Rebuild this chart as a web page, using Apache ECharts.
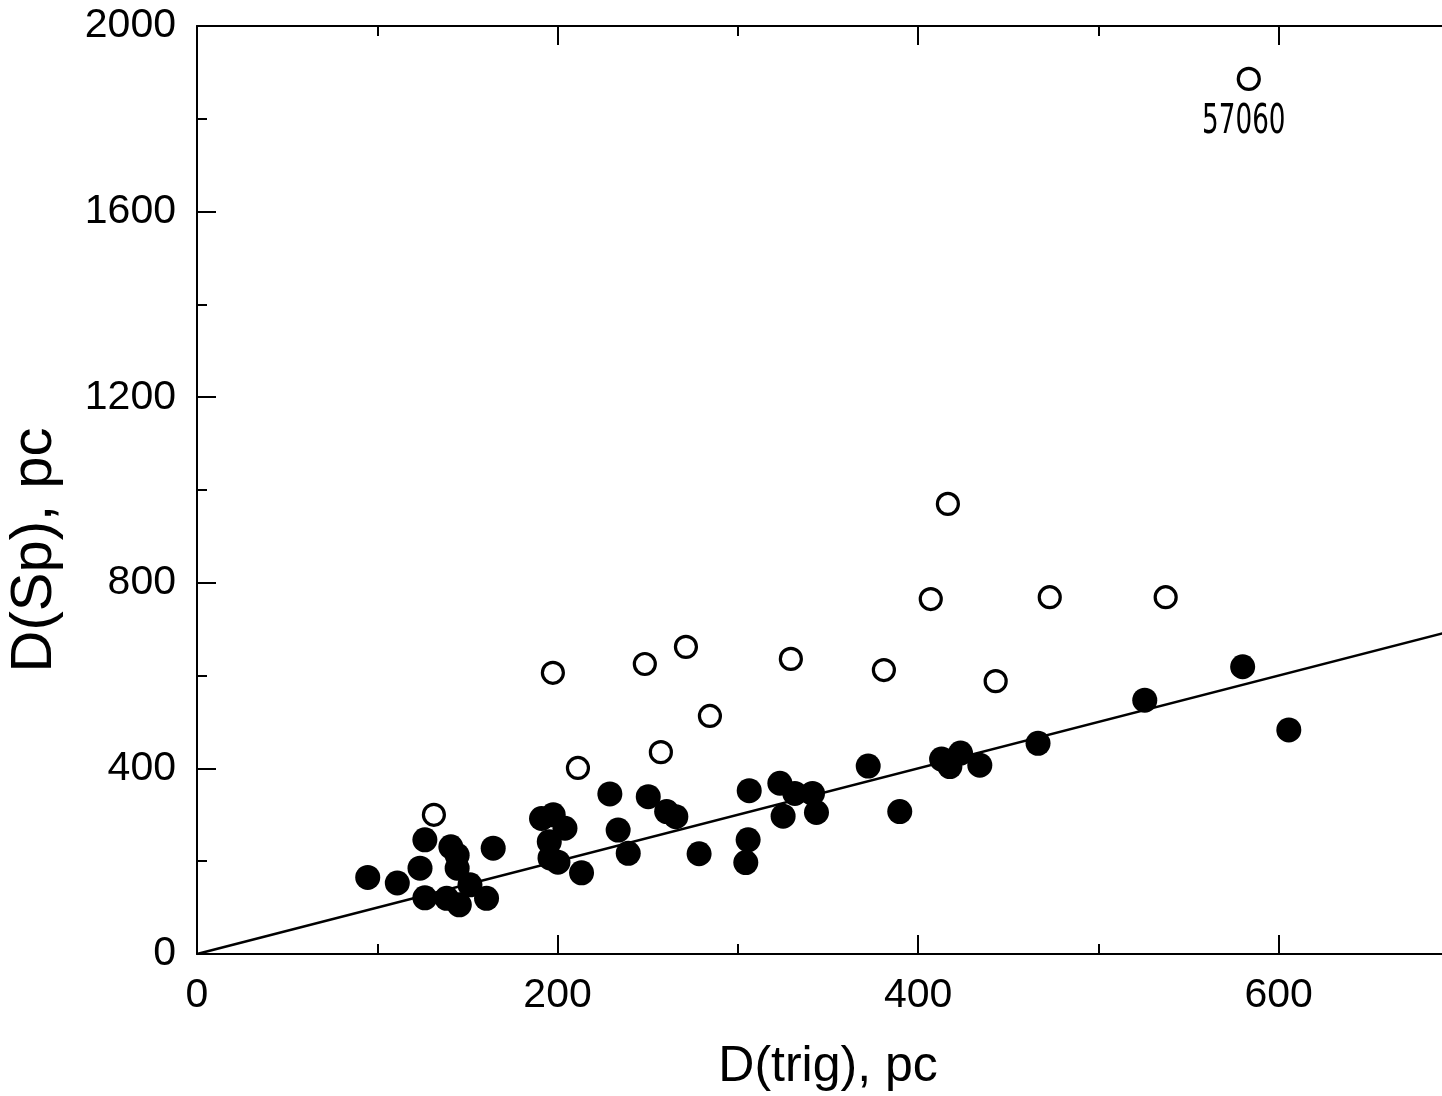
<!DOCTYPE html>
<html>
<head>
<meta charset="utf-8">
<script src="https://cdn.jsdelivr.net/npm/echarts@6/dist/echarts.min.js"></script>
<style>
html,body{margin:0;padding:0;background:#fff;}
#chart{width:1442px;height:1096px;}
</style>
</head>
<body>
<div id="chart"></div>
<script>
// Filled circles: [D(trig), D(Sp)]
const filledX = [94.7,111.1,123.7,126.4,126.4,140.8,144.3,144.3,138.5,145.5,151.4,160.6,164.3,
  229,250.3,260.5,265.6,191.1,197.6,204.1,195.4,195.8,200.2,213.3,233.6,239.2,278.5,
  306.3,323.3,331.6,341.4,343.6,325.1,305.7,304.4,372.3,389.8,413,417.6,423.5,434.2,466.5,525.7,580,605.6];
const filledY = [165,153,185,246,121,231,213,185,120,106,149,120,228,
  345,339,307,296,292,300,271,242,207,198,175,267,217,216,
  352,368,346,346,305,297,246,197,405,307,420,404,433,407,454,547,619,483];
// Open circles
const openX = [583.4,416.5,407,473,537.3,271.2,248.4,197.4,329.4,381,443,284.5,257.3,211.3,131.4];
const openY = [1886,970,765,769,769,662,625,606,636,612,588,513,435,401,300];
const openLabels = ['57060','','','','','','','','','','','','','',''];
// Reference line D(Sp) = D(trig)
const lineX = [0,700];
const lineY = [0,700];
// Axis ticks
const xTicks = [0,200,400,600];
const yTicks = [0,400,800,1200,1600,2000];

const font = 'Liberation Sans, Arial, sans-serif';
const chart = echarts.init(document.getElementById('chart'), null, {renderer:'canvas'});

const axisCommon = {
  axisLine:{show:true, lineStyle:{color:'#000', width:2}},
  axisTick:{show:true, inside:true, length:19, lineStyle:{color:'#000', width:2}},
  minorTick:{show:true, splitNumber:2, length:10, lineStyle:{color:'#000', width:2}},
  splitLine:{show:false}
};

const labelData = openX.map((x,i)=>[x, openY[i], openLabels[i]]).filter(d => d[2]);

chart.setOption({
  animation:false,
  backgroundColor:'#fff',
  grid:{left:197, top:26, width:1262, height:928, containLabel:false, outerBoundsMode:'none'},
  xAxis:[
    Object.assign({
      type:'value', min:0, max:700, interval:200, position:'bottom',
      name:'D(trig), pc', nameLocation:'middle', nameGap:88,
      nameTextStyle:{fontFamily:font, fontSize:50, color:'#000'},
      axisLabel:{fontFamily:font, fontSize:41, color:'#000', margin:21,
        formatter:v => xTicks.indexOf(v) >= 0 ? String(v) : ''}
    }, axisCommon),
    Object.assign({
      type:'value', min:0, max:700, interval:200, position:'top',
      axisLabel:{show:false}
    }, axisCommon)
  ],
  yAxis:[
    Object.assign({
      type:'value', min:0, max:2000, interval:400,
      name:'D(Sp), pc', nameLocation:'middle', nameGap:133, nameRotate:90,
      nameTextStyle:{fontFamily:font, fontSize:58, color:'#000', padding:[0,120,0,0]},
      axisLabel:{fontFamily:font, fontSize:41, color:'#000', margin:21,
        formatter:v => yTicks.indexOf(v) >= 0 ? String(v) : ''}
    }, axisCommon)
  ],
  series:[
    {
      type:'line', data:lineX.map((x,i)=>[x,lineY[i]]), symbol:'none',
      lineStyle:{color:'#000', width:2.5}, silent:true, z:1
    },
    {
      type:'scatter', data:filledX.map((x,i)=>[x,filledY[i]]),
      symbol:'circle', symbolSize:25,
      itemStyle:{color:'#000', opacity:1}, z:3
    },
    {
      type:'scatter', data:openX.map((x,i)=>[x,openY[i]]),
      symbol:'circle', symbolSize:21,
      itemStyle:{color:'#fff', borderColor:'#000', borderWidth:3.2, opacity:1}, z:4
    },
    {
      type:'custom', data:labelData, silent:true, z:5,
      renderItem:(params, api) => {
        const p = api.coord([api.value(0), api.value(1)]);
        return {
          type:'text', x:p[0]-5, y:p[1]+43, scaleX:0.64,
          style:{text:labelData[params.dataIndex][2], fontFamily:'DejaVu Sans, sans-serif',
            fontSize:41, fill:'#000', align:'center', verticalAlign:'middle'}
        };
      }
    }
  ]
});
</script>
</body>
</html>
